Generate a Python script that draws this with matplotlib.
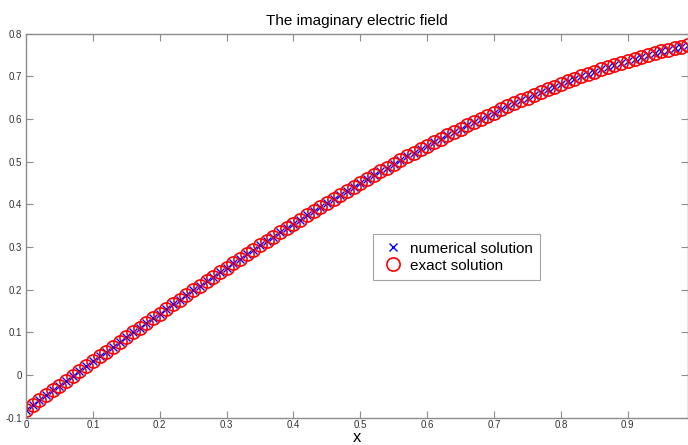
import numpy as np
import matplotlib
matplotlib.use('Agg')
import matplotlib.pyplot as plt

plt.rcParams['font.family'] = ['Liberation Sans', 'DejaVu Sans']

# grid points (0 .. 0.99 step 0.01)
x_vals = [0.00, 0.01, 0.02, 0.03, 0.04, 0.05, 0.06, 0.07, 0.08, 0.09,
          0.10, 0.11, 0.12, 0.13, 0.14, 0.15, 0.16, 0.17, 0.18, 0.19,
          0.20, 0.21, 0.22, 0.23, 0.24, 0.25, 0.26, 0.27, 0.28, 0.29,
          0.30, 0.31, 0.32, 0.33, 0.34, 0.35, 0.36, 0.37, 0.38, 0.39,
          0.40, 0.41, 0.42, 0.43, 0.44, 0.45, 0.46, 0.47, 0.48, 0.49,
          0.50, 0.51, 0.52, 0.53, 0.54, 0.55, 0.56, 0.57, 0.58, 0.59,
          0.60, 0.61, 0.62, 0.63, 0.64, 0.65, 0.66, 0.67, 0.68, 0.69,
          0.70, 0.71, 0.72, 0.73, 0.74, 0.75, 0.76, 0.77, 0.78, 0.79,
          0.80, 0.81, 0.82, 0.83, 0.84, 0.85, 0.86, 0.87, 0.88, 0.89,
          0.90, 0.91, 0.92, 0.93, 0.94, 0.95, 0.96, 0.97, 0.98, 0.99]

# imaginary part of the field
e_imag = [-0.0820, -0.0705, -0.0590, -0.0476, -0.0361, -0.0247, -0.0132, -0.0018, 0.0095, 0.0209,
          0.0322, 0.0436, 0.0548, 0.0661, 0.0773, 0.0885, 0.0997, 0.1108, 0.1219, 0.1330,
          0.1440, 0.1550, 0.1659, 0.1768, 0.1877, 0.1985, 0.2093, 0.2200, 0.2306, 0.2413,
          0.2518, 0.2623, 0.2728, 0.2832, 0.2935, 0.3038, 0.3141, 0.3242, 0.3343, 0.3444,
          0.3543, 0.3642, 0.3741, 0.3838, 0.3935, 0.4031, 0.4126, 0.4221, 0.4315, 0.4408,
          0.4500, 0.4592, 0.4682, 0.4772, 0.4861, 0.4949, 0.5036, 0.5122, 0.5207, 0.5292,
          0.5375, 0.5458, 0.5539, 0.5619, 0.5699, 0.5777, 0.5855, 0.5931, 0.6006, 0.6080,
          0.6153, 0.6225, 0.6296, 0.6366, 0.6435, 0.6502, 0.6568, 0.6633, 0.6697, 0.6760,
          0.6821, 0.6881, 0.6940, 0.6997, 0.7054, 0.7109, 0.7162, 0.7214, 0.7265, 0.7315,
          0.7363, 0.7410, 0.7455, 0.7499, 0.7542, 0.7583, 0.7623, 0.7661, 0.7697, 0.7732]

x_ticks = [0, 0.1, 0.2, 0.3, 0.4, 0.5, 0.6, 0.7, 0.8, 0.9]
x_ticklabels = ['0', '0.1', '0.2', '0.3', '0.4', '0.5', '0.6', '0.7', '0.8', '0.9']
y_ticks = [-0.1, 0, 0.1, 0.2, 0.3, 0.4, 0.5, 0.6, 0.7, 0.8]
y_ticklabels = ['-0.1', '0', '0.1', '0.2', '0.3', '0.4', '0.5', '0.6', '0.7', '0.8']

fig = plt.figure(figsize=(6.88, 4.45), dpi=100)
ax = fig.add_axes([26 / 688, 1 - 417.7 / 445, 662 / 688, 384 / 445])

ax.plot(x_vals, e_imag, linestyle='none', marker='x', color='blue',
        markersize=5.5, markeredgewidth=1.0, label='numerical solution')
ax.plot(x_vals, e_imag, linestyle='none', marker='o', color='red',
        markerfacecolor='none', markersize=9.5, markeredgewidth=1.2,
        label='exact solution')

ax.set_xlim(0, 0.99)
ax.set_ylim(-0.1, 0.8)
ax.set_xticks(x_ticks)
ax.set_xticklabels(x_ticklabels)
ax.set_yticks(y_ticks)
ax.set_yticklabels(y_ticklabels)

for sp in ax.spines.values():
    sp.set_color('#8c8c8c')
    sp.set_linewidth(1.0)
ax.tick_params(direction='in', length=5, width=0.8, color='#8c8c8c',
               labelsize=7, labelcolor='#333333', top=True, right=True, pad=3)
ax.tick_params(axis='x', pad=2)

ax.set_title('The imaginary electric field', fontsize=11, pad=6)
xl = ax.set_xlabel('x', fontsize=12)
xl.set_verticalalignment('baseline')
ax.xaxis.set_label_coords(0.5, -24.0 / 384)

leg = ax.legend(loc='upper left', bbox_to_anchor=(347 / 662, (417.7 - 234) / 384),
                fontsize=11, frameon=True, fancybox=False, borderpad=0.5,
                handletextpad=0.3, handlelength=1.6, labelspacing=0.2,
                borderaxespad=0)
leg.get_frame().set_edgecolor('#8c8c8c')
leg.get_frame().set_linewidth(0.8)

plt.savefig('out.png', dpi=100)
plt.close()
